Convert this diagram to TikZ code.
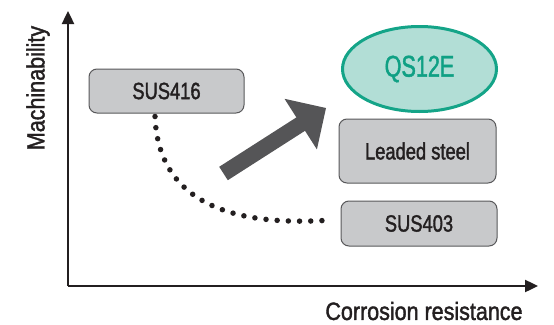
\documentclass[tikz,border=0pt]{standalone}
\usepackage{fontspec}
\setmainfont{Liberation Sans}[FakeStretch=0.86,FakeBold=1.6]
\newfontfamily\boxfont{Liberation Sans}[FakeStretch=0.78,FakeBold=1.6]
\newfontfamily\qsfont{Liberation Sans}[FakeStretch=0.72,FakeBold=1.4]
\usetikzlibrary{arrows.meta,shapes.geometric}
\definecolor{boxfill}{HTML}{C8C9CB}
\definecolor{boxline}{HTML}{58585A}
\definecolor{txt}{HTML}{231F20}
\definecolor{tealfill}{HTML}{B2DED6}
\definecolor{tealline}{HTML}{14A488}
\definecolor{tealtxt}{HTML}{0FA084}
\definecolor{arrowgrey}{HTML}{555557}
\tikzset{
  greybox/.style={draw=boxline, line width=1pt, fill=boxfill, rounded corners=8pt,
    text=txt, inner sep=0pt, font=\boxfont\fontsize{23.5}{27}\selectfont},
  axisline/.style={line width=2.4pt, draw=txt, -{Triangle[length=13pt,width=12pt]}},
  label/.style={text=txt, inner sep=0pt, font=\fontsize{25}{29}\selectfont},
}
\begin{document}
\begin{tikzpicture}[x=1pt,y=-1pt]
\useasboundingbox (0,0) rectangle (554,324);
% axes
\coordinate (origin) at (68,286);
\coordinate (ytip) at (68,11);
\coordinate (xtip) at (538,286);
\draw[axisline] (origin) -- (ytip);
\draw[axisline] (origin) -- (xtip);
\node[label, rotate=90] (ylab) at (38,88) {Machinability};
\node[label] (xlab) at (424,311) {Corrosion resistance};
% boxes
\node[greybox, minimum width=155pt, minimum height=44pt] (sus416) at (166.5,91) {SUS416};
\node[ellipse, draw=tealline, line width=3pt, fill=tealfill, text=tealtxt,
  minimum width=154pt, minimum height=85pt, inner sep=0pt,
  font=\qsfont\fontsize{30}{34}\selectfont] (qs) at (419.5,69) {QS12E};
\node[greybox, minimum width=157pt, minimum height=64pt] (leaded) at (417.5,151) {Leaded steel};
\node[greybox, minimum width=156pt, minimum height=45pt] (sus403) at (419,223.5) {SUS403};
% dotted curve
\coordinate (dstart) at ([xshift=-11.5pt,yshift=-3pt]sus416.south);
\coordinate (dend) at ([xshift=-9pt,yshift=3.5pt]sus403.west);
\draw[line width=5.5pt, line cap=round, dash pattern=on 0pt off 11.2pt, draw=txt]
  (dstart) .. controls (158,195) and (220,228) .. (dend);
% big arrow
\fill[arrowgrey] (219.2,166.8) -- (296.4,117.4) -- (284.5,98.8) -- (326,108)
  -- (316.9,149.4) -- (305.0,130.8) -- (227.8,180.2) -- cycle;
\end{tikzpicture}
\end{document}
